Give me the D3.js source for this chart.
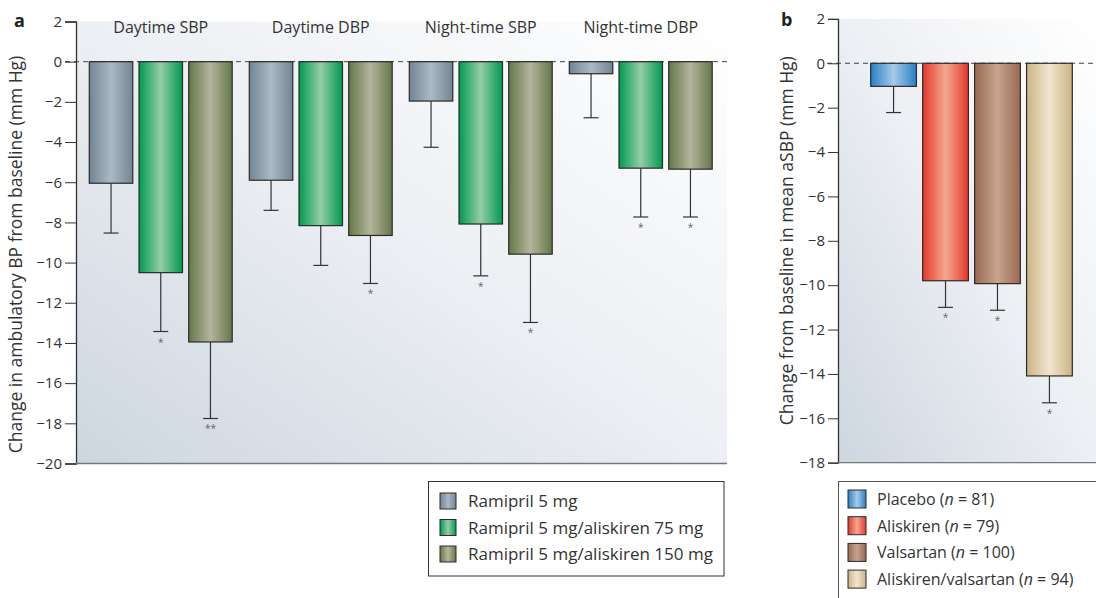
<!DOCTYPE html>
<html>
<head>
<meta charset="utf-8">
<script src="https://cdn.jsdelivr.net/npm/d3@7"></script>
<style>
  body { margin: 0; background: #fff; }
  svg { display: block; font-family: "Open Sans", sans-serif; }
  .axis text { font-size: 15px; fill: #333; font-family: "Open Sans", sans-serif; }
  .axis path, .axis line { stroke: #333; }
</style>
</head>
<body>
<svg id="chart" width="1096" height="598"></svg>
<script>
// panel a data
const groupsA = ["Daytime SBP", "Daytime DBP", "Night-time SBP", "Night-time DBP"];
const seriesA = ["Ramipril 5 mg", "Ramipril 5 mg/aliskiren 75 mg", "Ramipril 5 mg/aliskiren 150 mg"];
const meanA = [
  [-6.05, -10.5, -13.95],
  [-5.9, -8.16, -8.65],
  [-1.96, -8.08, -9.58],
  [-0.6, -5.3, -5.35]
];
const errLowA = [
  [-8.53, -13.43, -17.76],
  [-7.4, -10.14, -11.04],
  [-4.26, -10.66, -12.98],
  [-2.79, -7.73, -7.73]
];
const sigA = [
  ["", "*", "**"],
  ["", "", "*"],
  ["", "*", "*"],
  ["", "*", "*"]
];
const ticksA = [2, 0, -2, -4, -6, -8, -10, -12, -14, -16, -18, -20];

// panel b data
const treatB = ["Placebo", "Aliskiren", "Valsartan", "Aliskiren/valsartan"];
const nB = [81, 79, 100, 94];
const meanB = [-1.04, -9.8, -9.93, -14.09];
const errLowB = [-2.22, -11.0, -11.13, -15.3];
const sigB = ["", "*", "*", "*"];
const ticksB = [2, 0, -2, -4, -6, -8, -10, -12, -14, -16, -18];

const colorsA = [["#738494", "#abb9c3"], ["#009a50", "#95cca7"], ["#65774a", "#b4b69b"]];
const colorsB = [["#2a7fc4", "#a6cae9"], ["#e2392b", "#f3a890"], ["#9a6a50", "#c6a48e"], ["#ceb385", "#f0e6ce"]];

const svg = d3.select("#chart");
const defs = svg.append("defs");

function barGrad(id, c) {
  const g = defs.append("linearGradient").attr("id", id)
    .attr("x1", 0).attr("x2", 1).attr("y1", 0).attr("y2", 0);
  g.append("stop").attr("offset", 0).attr("stop-color", c[0]);
  g.append("stop").attr("offset", 0.5).attr("stop-color", c[1]);
  g.append("stop").attr("offset", 1).attr("stop-color", c[0]);
}
colorsA.forEach((c, i) => barGrad("ga" + i, c));
colorsB.forEach((c, i) => barGrad("gb" + i, c));

// background gradient
const bg = defs.append("linearGradient").attr("id", "bg")
  .attr("x1", 0).attr("y1", 1).attr("x2", 1).attr("y2", 0);
bg.append("stop").attr("offset", 0).attr("stop-color", "#cdd6df");
bg.append("stop").attr("offset", 0.5).attr("stop-color", "#eceff3");
bg.append("stop").attr("offset", 1).attr("stop-color", "#ffffff");

//////////////////////////// panel a
const leftA = 76, rightA = 727;
const yA = d3.scaleLinear().domain([-20, 2]).range([463.5, 21.5]);
const x0A = d3.scaleBand().domain(groupsA).range([83, 723]);
const x1A = d3.scaleBand().domain(seriesA).range([6.3, 149.2]).paddingInner(0.125);

svg.append("rect")
  .attr("x", leftA).attr("y", yA(2))
  .attr("width", rightA - leftA).attr("height", yA(-20) - yA(2))
  .attr("fill", "url(#bg)");

svg.append("line")
  .attr("x1", 65).attr("x2", rightA)
  .attr("y1", yA(0)).attr("y2", yA(0))
  .attr("stroke", "#444").attr("stroke-dasharray", "5,4");

groupsA.forEach((grp, gi) => {
  const g = svg.append("g").attr("transform", `translate(${x0A(grp)},0)`);
  seriesA.forEach((s, si) => {
    const x = x1A(s), w = x1A.bandwidth(), cx = x + w / 2;
    const v = meanA[gi][si], lo = errLowA[gi][si];
    g.append("line")
      .attr("x1", cx).attr("x2", cx).attr("y1", yA(v)).attr("y2", yA(lo))
      .attr("stroke", "#333").attr("stroke-width", 1.2);
    g.append("line")
      .attr("x1", cx - 7.5).attr("x2", cx + 7.5).attr("y1", yA(lo)).attr("y2", yA(lo))
      .attr("stroke", "#333").attr("stroke-width", 1.2);
    g.append("rect")
      .attr("x", x).attr("y", yA(0))
      .attr("width", w).attr("height", yA(v) - yA(0))
      .attr("fill", `url(#ga${si})`)
      .attr("stroke", "#2a2a2a").attr("stroke-width", 1.2);
    if (sigA[gi][si]) {
      g.append("text")
        .attr("x", cx).attr("y", yA(lo) + 14)
        .attr("text-anchor", "middle")
        .attr("font-size", 10).attr("fill", "#666")
        .text(sigA[gi][si]);
    }
  });
  svg.append("text")
    .attr("x", x0A(grp) + (x1A.range()[0] + x1A.range()[1]) / 2)
    .attr("y", 33)
    .attr("text-anchor", "middle")
    .attr("font-size", 16).attr("fill", "#333")
    .text(grp);
});

svg.append("g").attr("class", "axis")
  .attr("transform", `translate(${leftA},0)`)
  .call(d3.axisLeft(yA).tickValues(ticksA).tickSize(11).tickPadding(3).tickFormat(d3.format("d")))
  .call(g => g.select(".domain").attr("stroke-width", 1.3));

svg.append("line")
  .attr("x1", leftA).attr("x2", rightA)
  .attr("y1", yA(-20)).attr("y2", yA(-20))
  .attr("stroke", "#777").attr("stroke-width", 1.3);

svg.append("text")
  .attr("transform", `translate(22,${(yA(2) + yA(-20)) / 2 + 12}) rotate(-90)`)
  .attr("text-anchor", "middle")
  .attr("font-size", 17.5).attr("fill", "#333")
  .text("Change in ambulatory BP from baseline (mm Hg)");

svg.append("text")
  .attr("x", 14).attr("y", 27)
  .attr("font-size", 18).attr("font-weight", "bold").attr("fill", "#222")
  .text("a");

// legend a
svg.append("rect")
  .attr("x", 428.5).attr("y", 481.5).attr("width", 295.5).attr("height", 94.5)
  .attr("fill", "#fff").attr("stroke", "#333").attr("stroke-width", 1);
seriesA.forEach((s, i) => {
  const y = 493 + i * 26.5;
  svg.append("rect")
    .attr("x", 440).attr("y", y).attr("width", 16).attr("height", 16)
    .attr("fill", `url(#ga${i})`).attr("stroke", "#2a2a2a").attr("stroke-width", 1);
  svg.append("text")
    .attr("x", 468).attr("y", y + 14)
    .attr("font-size", 17).attr("fill", "#333")
    .text(s);
});

//////////////////////////// panel b
const leftB = 838, rightB = 1096;
const yB = d3.scaleLinear().domain([-18, 2]).range([462.7, 18.9]);
const xB = d3.scaleBand().domain(treatB).range([870.7, 1072.3]).paddingInner(0.12);

svg.append("rect")
  .attr("x", leftB).attr("y", yB(2))
  .attr("width", rightB - leftB).attr("height", yB(-18) - yB(2))
  .attr("fill", "url(#bg)");

svg.append("line")
  .attr("x1", 827).attr("x2", rightB)
  .attr("y1", yB(0)).attr("y2", yB(0))
  .attr("stroke", "#444").attr("stroke-dasharray", "5,4");

treatB.forEach((t, i) => {
  const x = xB(t), w = xB.bandwidth(), cx = x + w / 2;
  const v = meanB[i], lo = errLowB[i];
  svg.append("line")
    .attr("x1", cx).attr("x2", cx).attr("y1", yB(v)).attr("y2", yB(lo))
    .attr("stroke", "#333").attr("stroke-width", 1.2);
  svg.append("line")
    .attr("x1", cx - 7.5).attr("x2", cx + 7.5).attr("y1", yB(lo)).attr("y2", yB(lo))
    .attr("stroke", "#333").attr("stroke-width", 1.2);
  svg.append("rect")
    .attr("x", x).attr("y", yB(0))
    .attr("width", w).attr("height", yB(v) - yB(0))
    .attr("fill", `url(#gb${i})`)
    .attr("stroke", "#2a2a2a").attr("stroke-width", 1.2);
  if (sigB[i]) {
    svg.append("text")
      .attr("x", cx).attr("y", yB(lo) + 14)
      .attr("text-anchor", "middle")
      .attr("font-size", 10).attr("fill", "#666")
      .text(sigB[i]);
  }
});

svg.append("g").attr("class", "axis")
  .attr("transform", `translate(${leftB},0)`)
  .call(d3.axisLeft(yB).tickValues(ticksB).tickSize(10).tickPadding(3).tickFormat(d3.format("d")))
  .call(g => g.select(".domain").attr("stroke-width", 1.3));

svg.append("line")
  .attr("x1", leftB).attr("x2", rightB)
  .attr("y1", yB(-18)).attr("y2", yB(-18))
  .attr("stroke", "#777").attr("stroke-width", 1.3);

svg.append("text")
  .attr("transform", `translate(793,${(yB(2) + yB(-18)) / 2}) rotate(-90)`)
  .attr("text-anchor", "middle")
  .attr("font-size", 17.5).attr("fill", "#333")
  .text("Change from baseline in mean aSBP (mm Hg)");

svg.append("text")
  .attr("x", 781).attr("y", 26)
  .attr("font-size", 18).attr("font-weight", "bold").attr("fill", "#222")
  .text("b");

// legend b
svg.append("rect")
  .attr("x", 838.5).attr("y", 481.5).attr("width", 280).attr("height", 130)
  .attr("fill", "#fff").attr("stroke", "#555").attr("stroke-width", 1);
treatB.forEach((t, i) => {
  const y = 490 + i * 26.7;
  svg.append("rect")
    .attr("x", 848).attr("y", y).attr("width", 18).attr("height", 18)
    .attr("fill", `url(#gb${i})`).attr("stroke", "#2a2a2a").attr("stroke-width", 1);
  const txt = svg.append("text")
    .attr("x", 877).attr("y", y + 15)
    .attr("font-size", 16).attr("fill", "#333");
  txt.append("tspan").text(t + " (");
  txt.append("tspan").attr("font-style", "italic").text("n");
  txt.append("tspan").text(" = " + nB[i] + ")");
});
</script>
</body>
</html>
